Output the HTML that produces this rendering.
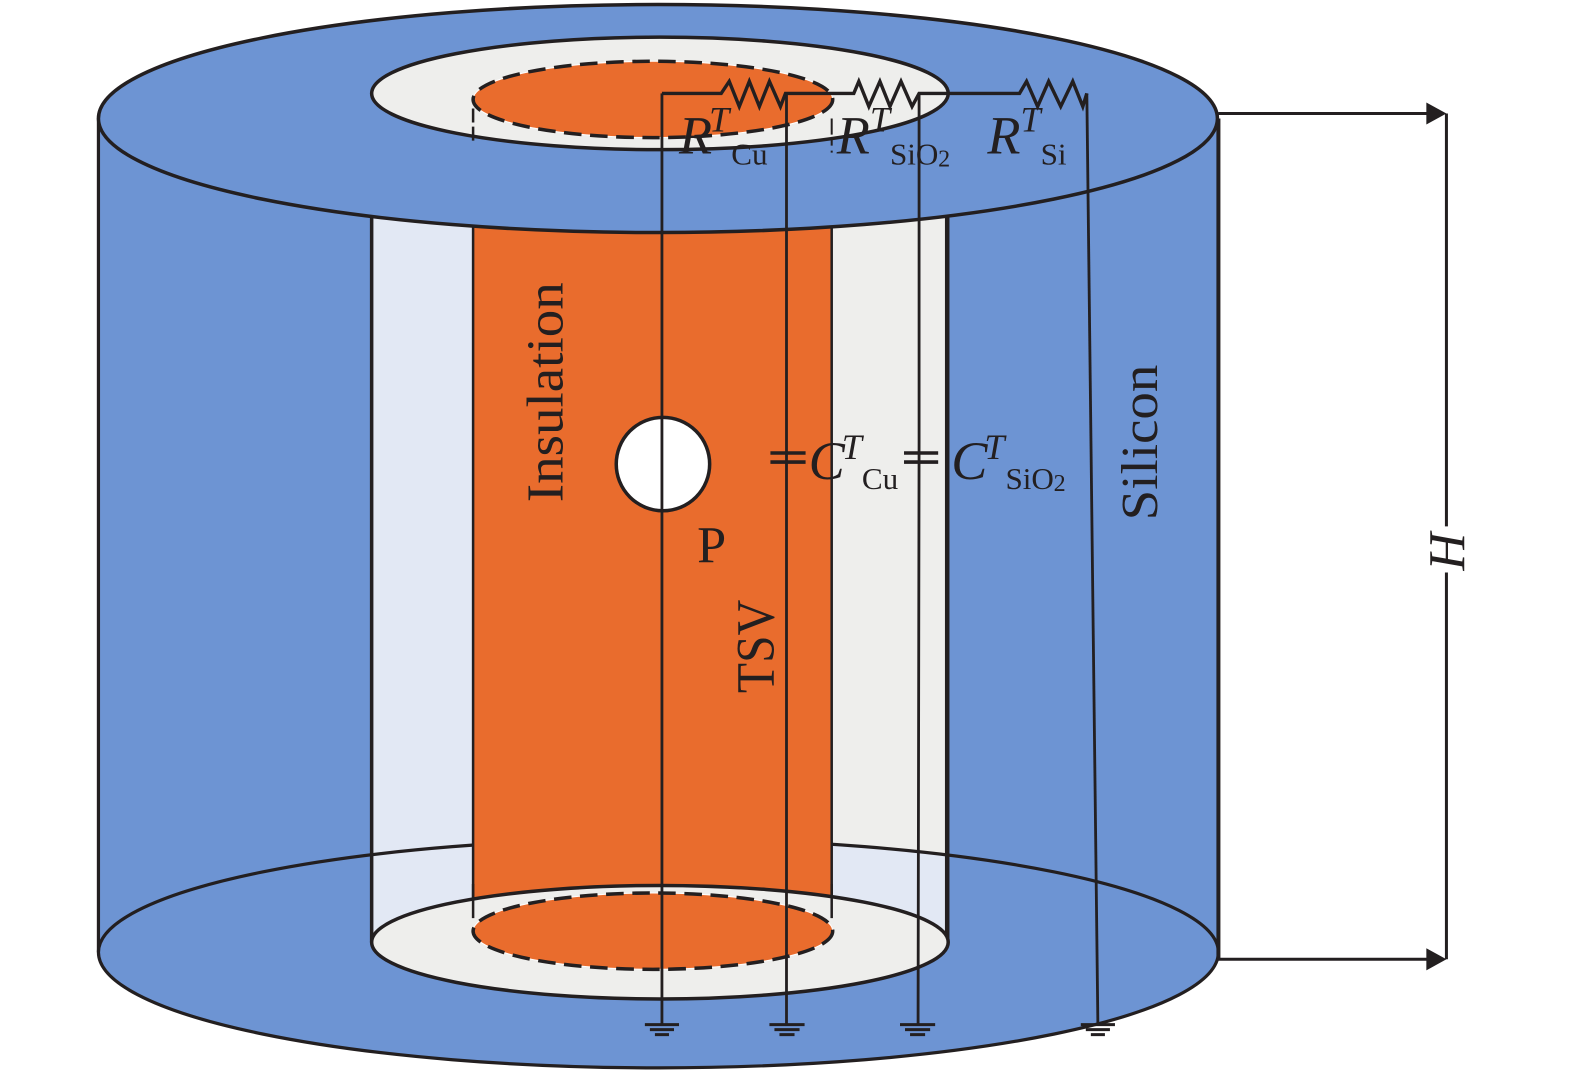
<!DOCTYPE html>
<html>
<head>
<meta charset="utf-8">
<style>
html,body{margin:0;padding:0;background:#fff;}
svg{display:block;}
text{font-family:"Liberation Serif",serif;fill:#231f20;}
.i{font-style:italic;}
</style>
</head>
<body>
<svg width="1575" height="1073" viewBox="0 0 1568 1068.2" preserveAspectRatio="none" xmlns="http://www.w3.org/2000/svg">
<rect width="1568" height="1069" fill="#fff"/>
<g stroke="#231f20" stroke-width="3.2" fill="none">
  <!-- cylinder body -->
  <path d="M98 118V948A557 115 0 0 0 1213 948V118Z" fill="#6d94d3" stroke="none"/>
  <!-- insulation columns -->
  <rect x="370" y="210" width="101" height="730" fill="#e2e8f4" stroke="none"/>
  <rect x="828" y="210" width="115" height="730" fill="#e2e8f4" stroke="none"/>
  <path d="M828 210H943V851L828 841Z" fill="#eeeeec" stroke="none"/>
  <!-- bottom back arc -->
  <path d="M98 948A557 113 0 0 1 1213 948" stroke-width="3.2"/>
  <!-- orange column -->
  <rect x="471" y="210" width="357" height="720" fill="#e96c2d" stroke="none"/>
  <!-- column edges -->
  <path d="M370 210V938" stroke-width="3.5"/>
  <path d="M943 210V938" stroke-width="4.500"/>
  <path d="M471 210V897M828 210V897" stroke-width="2.5"/>
  <!-- bottom inner ellipse -->
  <ellipse cx="657" cy="938" rx="287" ry="56.500" fill="#eeeeec" stroke-width="3.5"/>
  <path d="M471 880V914M828 880V914" stroke-width="2.5"/>
  <ellipse cx="650" cy="927" rx="179" ry="38" fill="#e96c2d" stroke="#fff" stroke-width="1"/>
  <ellipse cx="650" cy="927" rx="179" ry="38" stroke-width="3.5" stroke-dasharray="17.500 8.500"/>
  <!-- outer edges -->
  <path d="M98 118V948A557 115 0 0 0 1213 948" stroke-width="3.2"/>
  <path d="M1213 118V955" stroke-width="4"/>
  <!-- top ellipses -->
  <ellipse cx="655" cy="118" rx="557" ry="113.500" fill="#6d94d3" stroke-width="3.5"/>
  <ellipse cx="657" cy="93" rx="287" ry="56" fill="#eeeeec" stroke-width="3.5"/>
  <ellipse cx="650" cy="99" rx="179" ry="38" fill="#e96c2d" stroke="#fff" stroke-width="1"/>
  <ellipse cx="650" cy="99" rx="179" ry="38" stroke-width="3.5" stroke-dasharray="17.500 8.500"/>
  <path d="M471 108V141" stroke-width="2.5" stroke-dasharray="14 4"/>
  <path d="M828 118V152" stroke-width="2" stroke-dasharray="16 5 6 5"/>
  <!-- point P -->
  <circle cx="660" cy="462" r="46.500" fill="#fff" stroke-width="3.5"/>
  <!-- resistors and wires -->
  <path d="M659 93H718L726 81L736 106L746 81L756 106L766 81L777 106L782 93H850L855 81L865 106L876 81L886 106L897 81L908 106L915 93H1015L1022 81L1033 106L1044 81L1056 106L1068 81L1078 106L1082 93" stroke-width="3.400"/>
  <path d="M659 93V1020" stroke-width="2.800"/>
  <path d="M783 93V1020" stroke-width="2.800"/>
  <path d="M915 93V440L914 1020" stroke-width="2.800"/>
  <path d="M1082 93L1093 1020" stroke-width="2.800"/>
  <!-- capacitors -->
  <path d="M767 451H802M767 460H802M900 451H934M900 460H934" stroke-width="3.500"/>
  <!-- grounds -->
  <g stroke-width="3">
    <path d="M642 1020H676M647 1025H671M652 1030H666"/>
    <path d="M766 1020H801M771 1025H796M776 1030H791"/>
    <path d="M896 1020H931M901 1025H926M906 1030H921"/>
    <path d="M1076 1020H1110M1081 1025H1105M1086 1030H1100"/>
  </g>
  <!-- dimension -->
  <path d="M1213 113H1425M1213 955H1425" stroke-width="3"/>
  <path d="M1440 113V524M1440 570V955" stroke-width="3"/>
</g>
<path d="M1420 102L1440 113L1420 124Z" fill="#231f20"/>
<path d="M1420 944L1440 955L1420 966Z" fill="#231f20"/>

<!-- labels -->
<text class="i" x="676" y="153" font-size="54">R</text>
<text class="i" x="706" y="131" font-size="36">T</text>
<text x="728" y="164" font-size="31">Cu</text>

<text class="i" x="833" y="153" font-size="54">R</text>
<text class="i" x="866" y="131" font-size="36">T</text>
<text x="886" y="164" font-size="31">SiO</text>
<text x="934" y="166" font-size="24">2</text>

<text class="i" x="983" y="153" font-size="54">R</text>
<text class="i" x="1016" y="131" font-size="36">T</text>
<text x="1036" y="164" font-size="31">Si</text>

<text class="i" x="805" y="477" font-size="54">C</text>
<text class="i" x="838" y="457" font-size="36">T</text>
<text x="858" y="487" font-size="31">Cu</text>

<text class="i" x="947" y="477" font-size="54">C</text>
<text class="i" x="980" y="457" font-size="36">T</text>
<text x="1001" y="487" font-size="31">SiO</text>
<text x="1049" y="489" font-size="24">2</text>

<text x="694" y="560" font-size="52">P</text>
<text transform="translate(560 500) rotate(-90)" font-size="52" textLength="219" lengthAdjust="spacingAndGlyphs">Insulation</text>
<text transform="translate(770 690) rotate(-90)" font-size="54" textLength="93" lengthAdjust="spacingAndGlyphs">TSV</text>
<text transform="translate(1152 518) rotate(-90)" font-size="52" textLength="155" lengthAdjust="spacingAndGlyphs">Silicon</text>
<text class="i" transform="translate(1458 568) rotate(-90)" font-size="52">H</text>
</svg>
</body>
</html>
